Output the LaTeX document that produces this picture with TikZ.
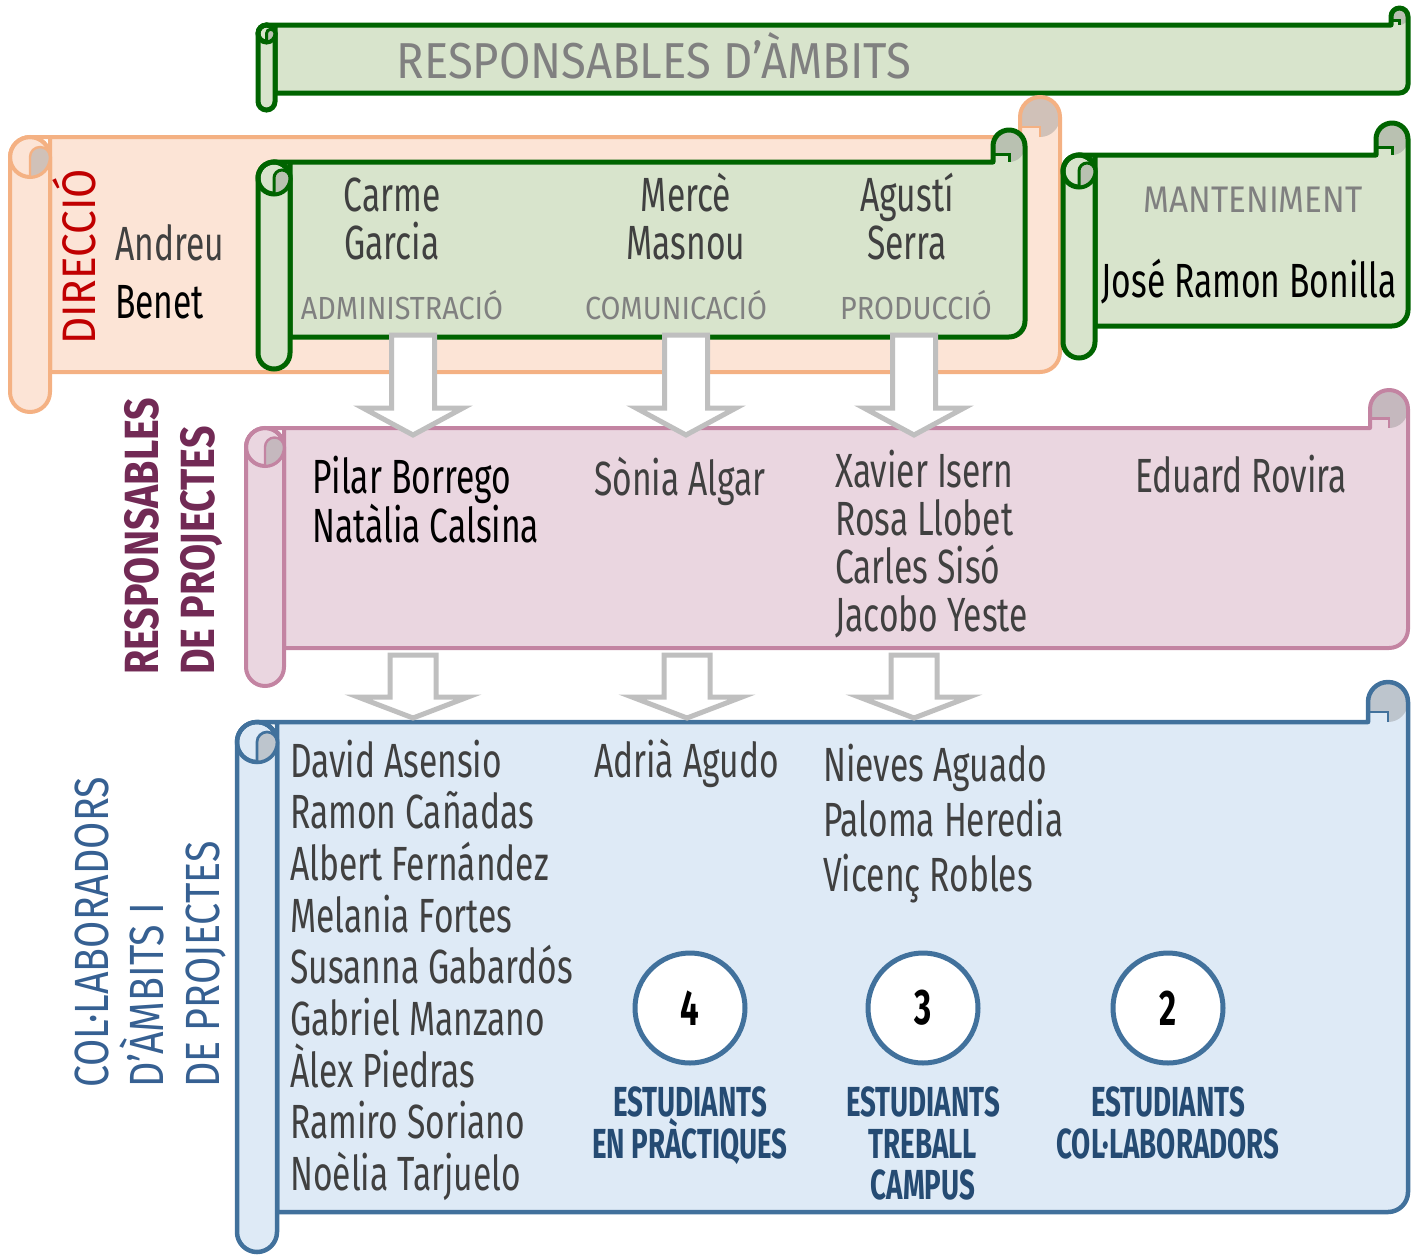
\documentclass[tikz,border=0pt]{standalone}
\usepackage{fontspec}
\setmainfont{Fira Sans}
\newfontfamily\namefont{Fira Sans}[FakeStretch=0.7]
\newfontfamily\capsfont{Fira Sans}[FakeStretch=0.9]
\newfontfamily\headfont{Fira Sans}[FakeStretch=0.82]
\newfontfamily\studfont{Fira Sans}[FakeStretch=0.66]
\usepackage{tikz}
\usetikzlibrary{positioning}

\definecolor{ambline}{HTML}{006400}
\definecolor{ambfill}{HTML}{D8E4CC}
\colorlet{ambshade}{ambfill!65!gray}
\definecolor{dirline}{HTML}{F4B183}
\definecolor{dirfill}{HTML}{FCE4D6}
\colorlet{dirshade}{dirfill!65!gray}
\definecolor{projline}{HTML}{C384A2}
\definecolor{projfill}{HTML}{EAD6E0}
\colorlet{projshade}{projfill!65!gray}
\definecolor{colline}{HTML}{41719C}
\definecolor{colfill}{HTML}{DEEAF6}
\colorlet{colshade}{colfill!65!gray}
\definecolor{textgray}{HTML}{808080}
\definecolor{namegray}{HTML}{404040}
\definecolor{direcred}{HTML}{C00000}
\definecolor{projpurple}{HTML}{722A55}
\definecolor{colblue}{HTML}{366092}
\definecolor{studblue}{HTML}{254B73}
\definecolor{arrowgray}{HTML}{BFBFBF}

% scroll: left, body top, right, body bottom, roll size, colour prefix, line width
\newcommand{\drawscroll}[7]{%
  \pgfmathsetmacro\sh{#5/2}%
  \pgfmathsetmacro\sq{#5/4}%
  \fill[#6fill] (#1+\sh,#2) -- (#3-#5,#2) -- (#3-#5,#2-\sh) arc[start angle=180,end angle=0,radius=\sh pt]
    -- (#3,#4-\sh) arc[start angle=0,end angle=-90,radius=\sh pt] -- (#1+#5,#4) -- (#1+#5,#2) -- cycle;
  \fill[#6shade] (#3-\sh,#2-\sh) circle[radius=\sh pt];
  \fill[#6fill] (#3-#5,#2-\sh+\sq) rectangle (#3-\sh,#2);
  \draw[#6line,line width=#7pt,line join=round] (#1+\sh,#2) -- (#3-#5,#2) -- (#3-#5,#2-\sh) arc[start angle=180,end angle=0,radius=\sh pt]
    -- (#3,#4-\sh) arc[start angle=0,end angle=-90,radius=\sh pt] -- (#1+#5,#4) -- (#1+#5,#2) -- cycle;
  \draw[#6line,line width=#7pt*0.6] (#3-#5,#2-\sh+\sq) -- (#3-\sh,#2-\sh+\sq) -- (#3-\sh,#2);
  \filldraw[draw=#6line,fill=#6fill,line width=#7pt] (#1,#2+\sh) -- (#1,#4+#5-\sh) arc[start angle=180,end angle=360,radius=\sh pt]
    -- (#1+#5,#2+\sh) arc[start angle=0,end angle=180,radius=\sh pt] -- cycle;
  \draw[#6line,line width=#7pt] (#1+\sh,#2+\sh) circle[radius=\sh pt];
  \filldraw[draw=#6line,fill=#6shade,line width=#7pt*0.6] (#1+\sh,#2+#5) -- (#1+\sh,#2+\sh)
    arc[start angle=180,end angle=0,radius=\sq pt] arc[start angle=0,end angle=-90,radius=\sh pt] -- cycle;
}

\begin{document}
\begin{tikzpicture}[x=1pt,y=-1pt,
  person/.style={font=\namefont\fontsize{48pt}{50pt}\selectfont, text=namegray, anchor=base west, inner sep=0},
  area/.style={font=\capsfont\fontsize{32pt}{34pt}\selectfont, text=textgray, anchor=base, inner sep=0},
  vlabel/.style={rotate=90, anchor=base west, inner sep=0},
  stud/.style={font=\studfont\bfseries\fontsize{42pt}{41.5pt}\selectfont, text=studblue, align=center, inner sep=0},
  count/.style={circle, draw=colline, fill=white, line width=5pt, minimum size=110pt, inner sep=0,
    font=\studfont\bfseries\fontsize{50pt}{50pt}\selectfont},
  arrowbox/.style={draw=arrowgray, fill=white, line width=5pt}]
\useasboundingbox (0,0) rectangle (1417,1254);

\drawscroll{258}{25}{1408}{93}{17}{amb}{5}
\drawscroll{10}{137}{1060}{372}{40}{dir}{4}
\drawscroll{258}{162}{1025}{337}{32}{amb}{5}
\drawscroll{1063}{155}{1408}{326}{32}{amb}{5}
\drawscroll{246}{428}{1408}{648}{38}{proj}{4}
\drawscroll{237}{722}{1408}{1212}{40}{col}{4.5}

% arrows between the levels
\foreach \ax in {413,686,914}
  \draw[arrowbox] (\ax-21.5,335) -- (\ax+21.5,335) -- (\ax+21.5,408) -- (\ax+50,408) -- (\ax,435) -- (\ax-50,408) -- (\ax-21.5,408) -- cycle;
\foreach \ax in {413,687,914}
  \draw[arrowbox] (\ax-23,655) -- (\ax+23,655) -- (\ax+23,697) -- (\ax+55,697) -- (\ax,718) -- (\ax-55,697) -- (\ax-23,697) -- cycle;

\node[area, font=\capsfont\fontsize{50.5pt}{50pt}\selectfont] (ambits) at (654,78) {RESPONSABLES D’ÀMBITS};

\node[vlabel, text=direcred, font=\capsfont\fontsize{47pt}{47pt}\selectfont] (direccio) at (95,345) {DIRECCIÓ};
\node[person] (andreu) at (115,260) {Andreu};
\node[person, text=black, below=58pt of andreu.base west, anchor=base west] (benet) {Benet};

\node[person, anchor=base] (carme) at (392,211) {Carme};
\node[person, below=48pt of carme.base, anchor=base] (garcia) {Garcia};
\node[person, anchor=base] (merce) at (686,211) {Mercè};
\node[person, below=48pt of merce.base, anchor=base] (masnou) {Masnou};
\node[person, anchor=base] (agusti) at (907,211) {Agustí};
\node[person, below=48pt of agusti.base, anchor=base] (serra) {Serra};
\node[area] (admin) at (402,319) {ADMINISTRACIÓ};
\node[area] (comunic) at (676,319) {COMUNICACIÓ};
\node[area] (produc) at (916,319) {PRODUCCIÓ};

\node[area, font=\capsfont\fontsize{37pt}{37pt}\selectfont] (mant) at (1253,212) {MANTENIMENT};
\node[person, text=black, anchor=base] (bonilla) at (1249,297) {José Ramon Bonilla};

\node[vlabel, text=projpurple, font=\headfont\bfseries\fontsize{48pt}{48pt}\selectfont] (resp) at (158,675) {RESPONSABLES};
\node[vlabel, text=projpurple, font=\headfont\bfseries\fontsize{48pt}{48pt}\selectfont] (deproj) at (214,675) {DE PROJECTES};
\node[person, text=black] (pilar) at (312,493) {Pilar Borrego};
\node[person, text=black, below=49pt of pilar.base west, anchor=base west] (natalia) {Natàlia Calsina};
\node[person] (sonia) at (594,495) {Sònia Algar};
\foreach \who [count=\i from 0] in {Xavier Isern, Rosa Llobet, Carles Sisó, Jacobo Yeste}
  \node[person] (prod\i) at (835,487+48*\i) {\who};
\node[person] (eduard) at (1135,492) {Eduard Rovira};

\node[vlabel, text=colblue, font=\headfont\fontsize{48pt}{48pt}\selectfont] (colab) at (108,1088) {COL·LABORADORS};
\node[vlabel, text=colblue, font=\headfont\fontsize{48pt}{48pt}\selectfont] (dambits) at (163,1088) {D’ÀMBITS I};
\node[vlabel, text=colblue, font=\headfont\fontsize{48pt}{48pt}\selectfont] (deproj2) at (219,1088) {DE PROJECTES};
\foreach \who [count=\i from 0] in {David Asensio, Ramon Cañadas, Albert Fernández, Melania Fortes,
    Susanna Gabardós, Gabriel Manzano, Àlex Piedras, Ramiro Soriano, Noèlia Tarjuelo}
  \node[person] (adm\i) at (290,777+51.7*\i) {\who};
\node[person] (adria) at (594,777) {Adrià Agudo};
\foreach \who [count=\i from 0] in {Nieves Aguado, Paloma Heredia, Vicenç Robles}
  \node[person] (prodcol\i) at (823,781+55*\i) {\who};

\node[count] (stud4) at (690,1008) {4};
\node[count] (stud3) at (923,1008) {3};
\node[count] (stud2) at (1168,1008) {2};
\node[stud, below=21pt of stud4] (practiques) {ESTUDIANTS\\EN PRÀCTIQUES};
\node[stud, below=21pt of stud3] (campus) {ESTUDIANTS\\TREBALL\\CAMPUS};
\node[stud, below=21pt of stud2] (collab) {ESTUDIANTS\\COL·LABORADORS};
\end{tikzpicture}
\end{document}
